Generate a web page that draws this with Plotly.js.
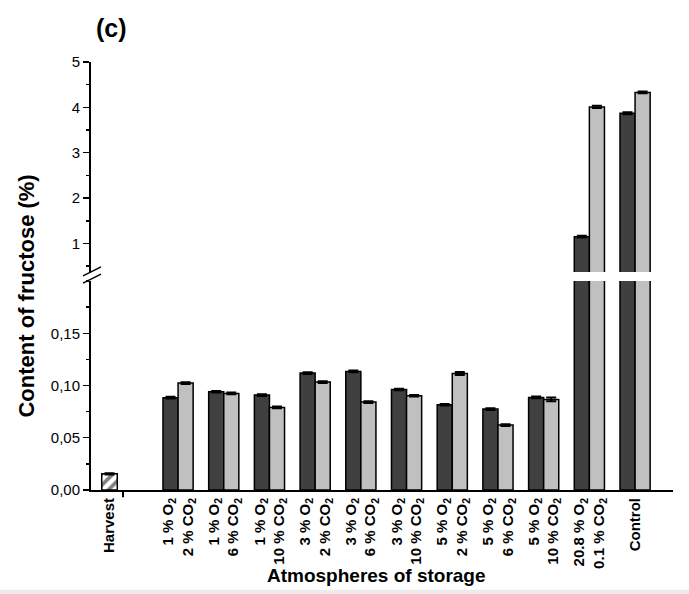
<!DOCTYPE html>
<html>
<head>
<meta charset="utf-8">
<script src="https://cdn.plot.ly/plotly-3.0.1.min.js"></script>
<style>html,body{margin:0;padding:0;background:#fff;}#chart{width:689px;height:594px;}</style>
</head>
<body>
<div id="chart"></div>
<script>
// ---- data ----
const categories = [
  '1 % O<sub>2</sub><br>2 % CO<sub>2</sub>',
  '1 % O<sub>2</sub><br>6 % CO<sub>2</sub>',
  '1 % O<sub>2</sub><br>10 % CO<sub>2</sub>',
  '3 % O<sub>2</sub><br>2 % CO<sub>2</sub>',
  '3 % O<sub>2</sub><br>6 % CO<sub>2</sub>',
  '3 % O<sub>2</sub><br>10 % CO<sub>2</sub>',
  '5 % O<sub>2</sub><br>2 % CO<sub>2</sub>',
  '5 % O<sub>2</sub><br>6 % CO<sub>2</sub>',
  '5 % O<sub>2</sub><br>10 % CO<sub>2</sub>',
  '20.8 % O<sub>2</sub><br>0.1 % CO<sub>2</sub>',
  'Control'
];
const harvestLabel = 'Harvest';
const harvestValue = [0.0155];
const harvestErr = [0.0006];
const darkValues  = [0.0884, 0.0940, 0.0908, 0.1119, 0.1135, 0.0962, 0.0816, 0.0774, 0.0886, 1.15, 3.87];
const darkErr     = [0.0008, 0.0008, 0.0008, 0.0008, 0.0008, 0.0008, 0.0008, 0.0008, 0.0008, 0.02, 0.02];
const lightValues = [0.1023, 0.0924, 0.0790, 0.1033, 0.0841, 0.0902, 0.1115, 0.0621, 0.0867, 4.01, 4.33];
const lightErr    = [0.0008, 0.0008, 0.0008, 0.0008, 0.0008, 0.0008, 0.0015, 0.0008, 0.0018, 0.025, 0.02];
const lowerTicks = [0, 0.05, 0.10, 0.15];
const upperTicks = [1, 2, 3, 4, 5];

// ---- positions (layout only) ----
const groupX = categories.map((c, i) => i + 1.5);
const BW = 0.33;
const FONT = 'Liberation Sans, Arial, sans-serif';

function barTrace(x, y, err, color, offset, yaxis, pattern, width) {
  const t = {
    type: 'bar', x: x, y: y, yaxis: yaxis, xaxis: 'x',
    width: width, offset: offset,
    marker: {color: color, line: {color: '#000', width: 1.5}},
    error_y: {type: 'data', array: err, visible: true, color: '#000', thickness: 2, width: 5},
    hoverinfo: 'skip', showlegend: false
  };
  if (pattern) t.marker.pattern = pattern;
  return t;
}

const hatch = {shape: '/', fgcolor: '#000', bgcolor: '#fff', size: 8, solidity: 0.45, fillmode: 'overlay'};
const traces = [];
['y', 'y2'].forEach(ax => {
  traces.push(barTrace([0], harvestValue, harvestErr, '#fff', -0.17, ax, hatch, 0.34));
  traces.push(barTrace(groupX, darkValues, darkErr, '#404040', -BW, ax, null, BW));
  traces.push(barTrace(groupX, lightValues, lightErr, '#c0c0c0', 0, ax, null, BW));
});

const tickFont = {family: FONT, size: 15, color: '#000'};
const layout = {
  width: 689, height: 594,
  margin: {l: 91, r: 16, t: 62, b: 104},
  paper_bgcolor: '#fff', plot_bgcolor: '#fff',
  separators: ', ',
  barmode: 'overlay',
  showlegend: false,
  font: {family: FONT, color: '#000'},
  xaxis: {
    range: [-0.405, 12.33], anchor: 'y',
    showline: true, linecolor: '#000', linewidth: 2,
    showgrid: false, zeroline: false,
    tickmode: 'array', tickvals: [0].concat(groupX), ticktext: [harvestLabel].concat(categories),
    ticks: '', tickangle: -90,
    tickfont: {family: FONT, size: 15, color: '#000', weight: 'bold'}
  },
  yaxis: {
    domain: [0, 0.4883], range: [0, 0.2], anchor: 'x',
    showline: true, linecolor: '#000', linewidth: 2,
    showgrid: false, zeroline: false,
    tickmode: 'array', tickvals: lowerTicks, tickformat: '.2f',
    ticks: 'outside', ticklen: 6, tickwidth: 1.5, tickcolor: '#000',
    minor: {tickmode: 'linear', tick0: 0, dtick: 0.025, ticks: 'outside', ticklen: 3, tickwidth: 1.5, tickcolor: '#000', showgrid: false},
    tickfont: tickFont
  },
  yaxis2: {
    domain: [0.5093, 1], range: [0.37, 5], anchor: 'x',
    showline: true, linecolor: '#000', linewidth: 2,
    showgrid: false, zeroline: false,
    tickmode: 'array', tickvals: upperTicks,
    ticks: 'outside', ticklen: 6, tickwidth: 1.5, tickcolor: '#000',
    minor: {tickmode: 'linear', tick0: 0, dtick: 0.5, ticks: 'outside', ticklen: 3, tickwidth: 1.5, tickcolor: '#000', showgrid: false},
    tickfont: tickFont
  },
  shapes: [
    // axis break marks
    {type: 'line', xref: 'paper', yref: 'paper', x0: -0.0137, x1: 0.0172, y0: 0.4883 + 0.012, y1: 0.4883 + 0.033, line: {color: '#000', width: 1.5}},
    {type: 'line', xref: 'paper', yref: 'paper', x0: -0.0137, x1: 0.0172, y0: 0.4883 - 0.005, y1: 0.4883 + 0.016, line: {color: '#000', width: 1.5}},
    // separator tick after Harvest
    {type: 'line', xref: 'paper', yref: 'paper', x0: 0.055, x1: 0.055, y0: 0, y1: -0.017, line: {color: '#000', width: 2}},
    // bottom frame band
    {type: 'rect', xref: 'paper', yref: 'paper', x0: -0.2, x1: 1.1, y0: -0.233, y1: -0.25, fillcolor: '#ececec', line: {width: 0}, layer: 'below'}
  ],
  annotations: [
    {text: '<b>(c)</b>', xref: 'paper', yref: 'paper', x: 0.036, y: 1.0794, xanchor: 'center', yanchor: 'middle', showarrow: false, font: {family: FONT, size: 25, color: '#000'}},
    {text: '<b>Content of fructose (%)</b>', xref: 'paper', yref: 'paper', x: -0.111, y: 0.453, xanchor: 'center', yanchor: 'middle', textangle: -90, showarrow: false, font: {family: FONT, size: 22, color: '#000'}},
    {text: '<b>Atmospheres of storage</b>', xref: 'paper', yref: 'paper', x: 0.49, y: -0.199, xanchor: 'center', yanchor: 'middle', showarrow: false, font: {family: FONT, size: 19, color: '#000'}}
  ]
};

Plotly.newPlot('chart', traces, layout, {displayModeBar: false, staticPlot: true});
</script>
</body>
</html>
